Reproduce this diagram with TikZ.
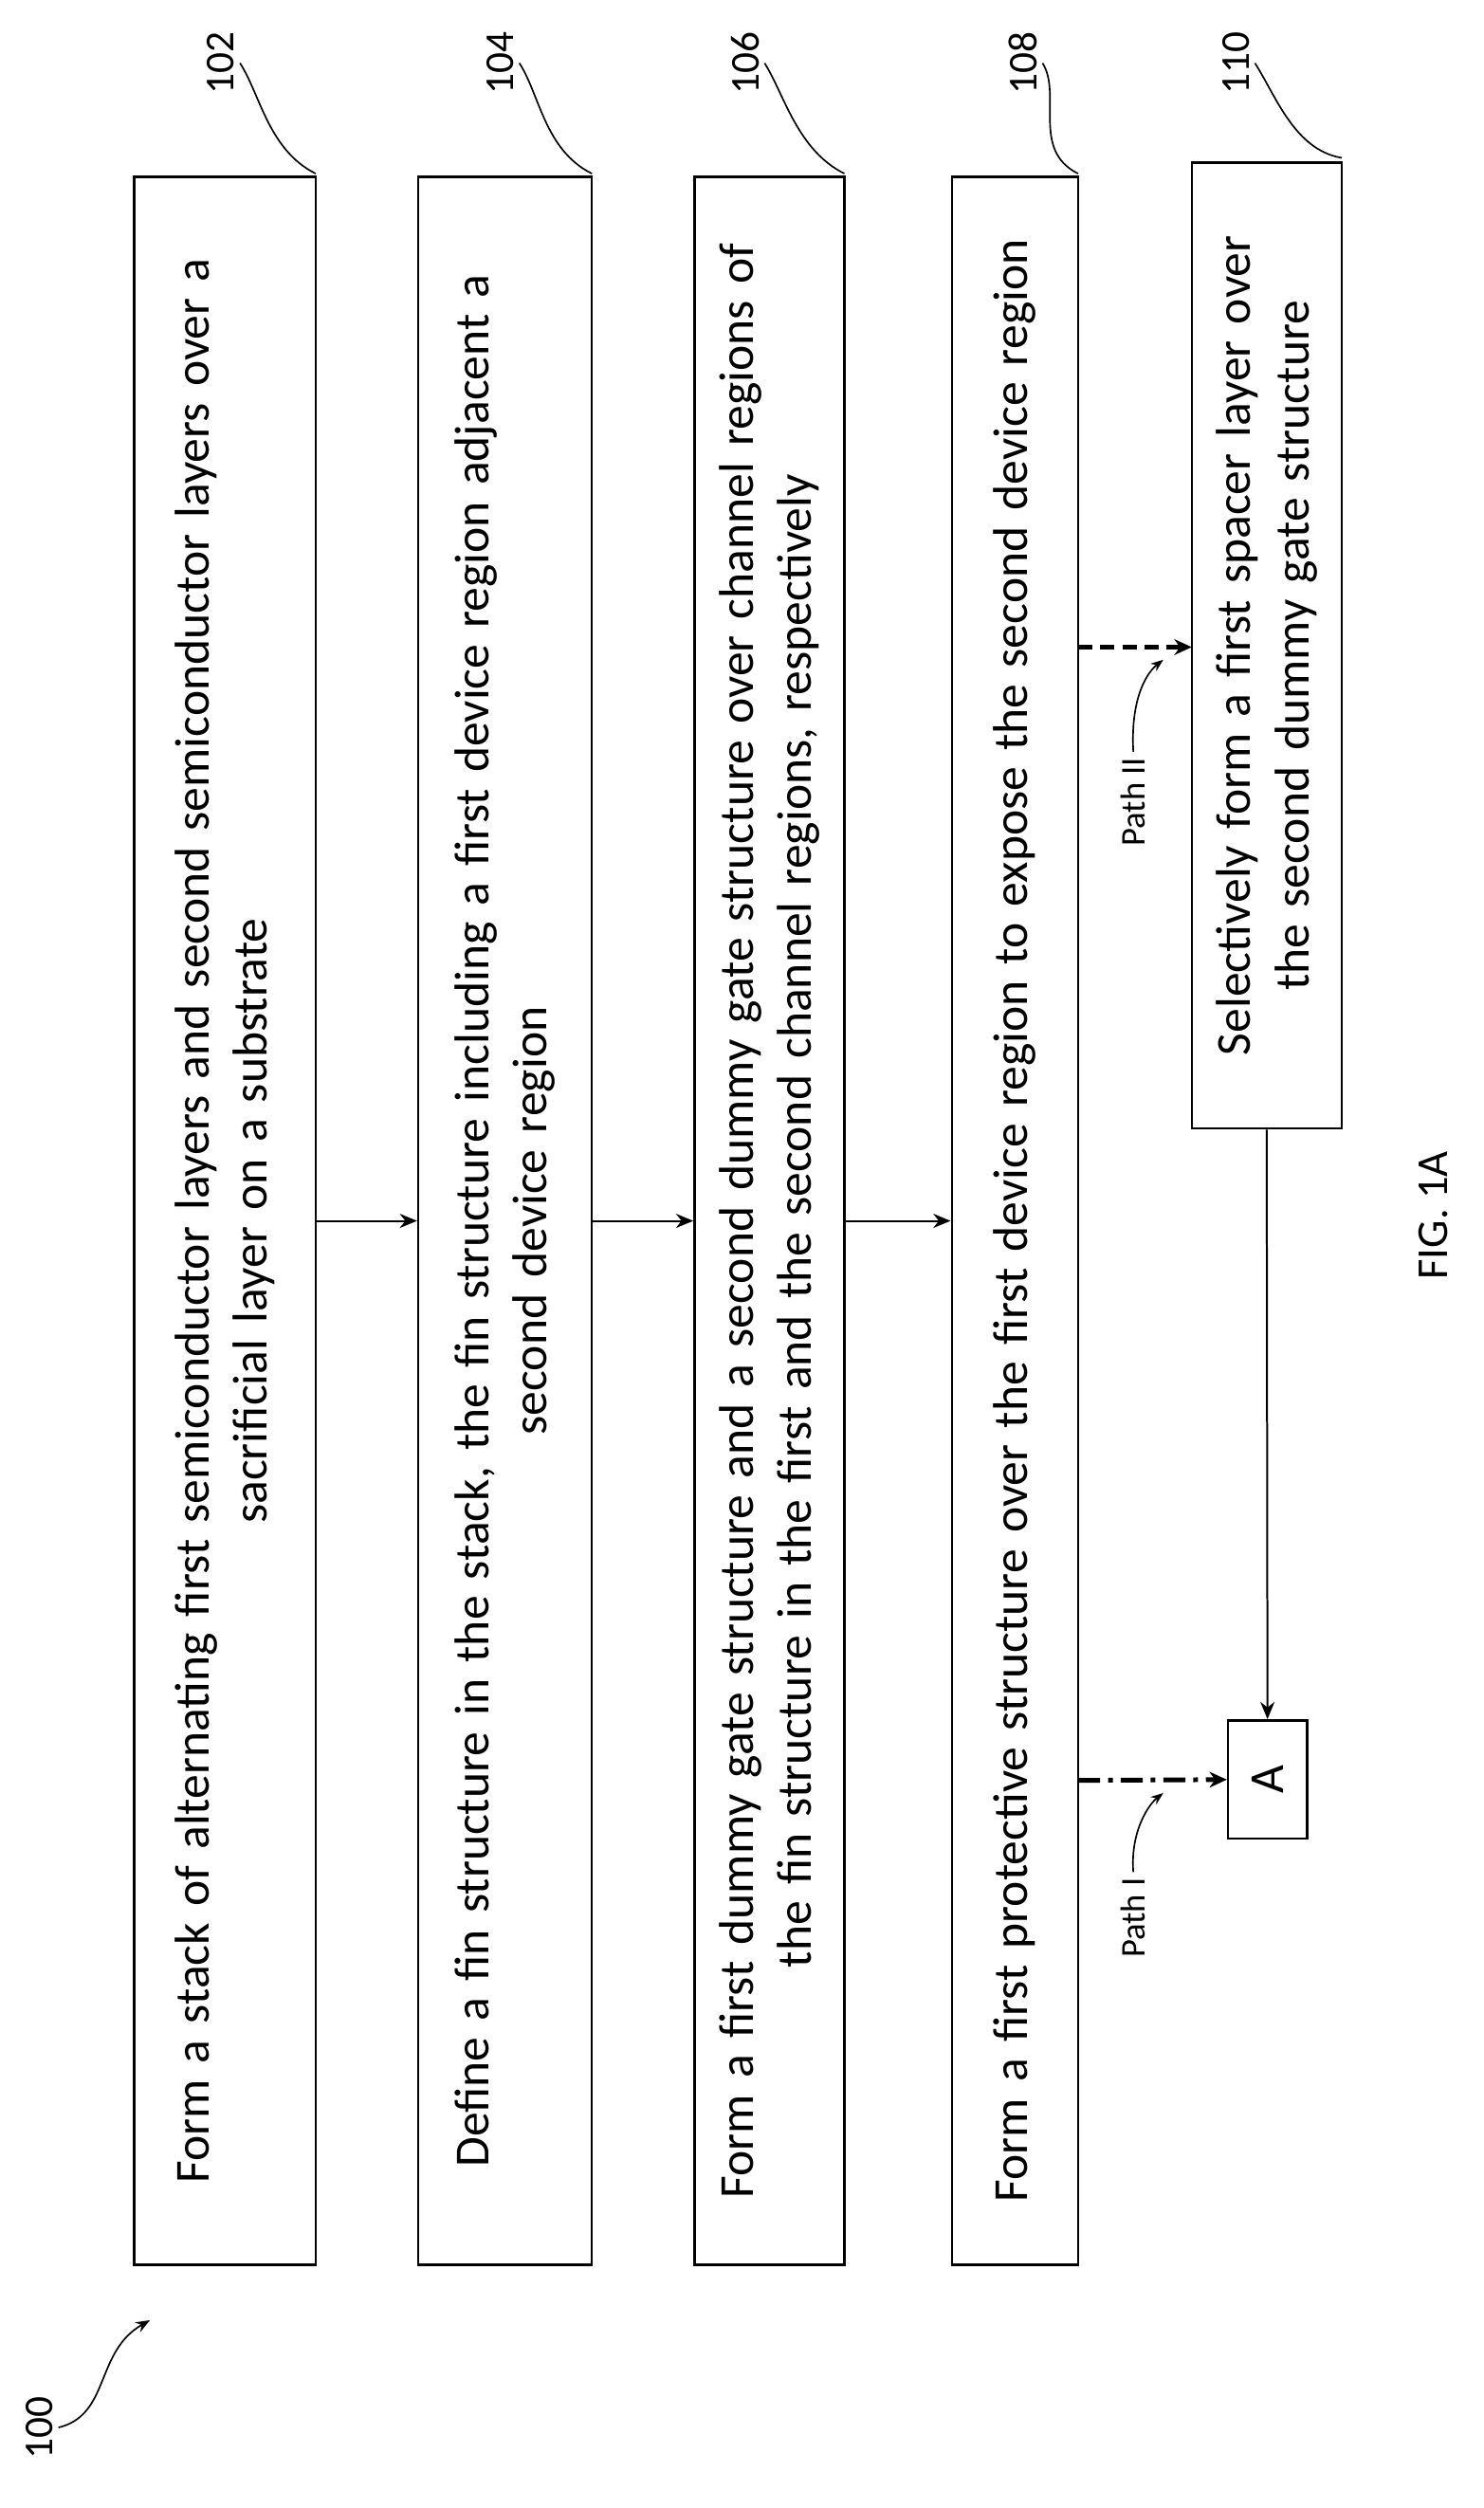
\documentclass[tikz,border=0pt]{standalone}
\usepackage{fontspec}
\setmainfont{Carlito}
\usetikzlibrary{arrows.meta}
\begin{document}
\begin{tikzpicture}[x=1pt,y=-1pt,
  box/.style={draw,line width=1.5pt,rotate=90,minimum height=#1,align=center,font=\fontsize{31}{37}\selectfont,inner sep=0pt},
  conn/.style={line width=1.2pt,-{Stealth[length=11pt,width=9pt]}},
  path/.style={line width=3pt,-{Stealth[length=11pt,width=10pt]}},
  lbl/.style={rotate=90,font=\fontsize{22}{26}\selectfont},
  num/.style={rotate=90,font=\fontsize{26}{30}\selectfont},
  lead/.style={line width=1pt}]
\useasboundingbox (0,0) rectangle (940,1589);
\node[box=115pt,minimum width=1323pt,text width=1310pt] (b102) at (142.5,773.5) {Form a stack of alternating first semiconductor layers and second semiconductor layers over a\\sacrificial layer on a substrate};
\node[box=110pt,minimum width=1323pt,text width=1310pt] (b104) at (320,773.5) {Define a fin structure in the stack, the fin structure including a first device region adjacent a\\second device region};
\node[box=95pt,minimum width=1323pt,text width=1315pt] (b106) at (487.5,773.5) {Form a first dummy gate structure and a second dummy gate structure over channel regions of\\the fin structure in the first and the second channel regions, respectively};
\node[box=80pt,minimum width=1323pt,text width=1315pt] (b108) at (643,773.5) {Form a first protective structure over the first device region to expose the second device region};
\node[box=95pt,minimum width=612pt,text width=590pt] (b110) at (802.5,409) {Selectively form a first spacer layer over\\the second dummy gate structure};
\node[box=50pt,minimum width=75pt] (A) at (803,1127.5) {A};
\draw[conn] (b102.south) -- (b104.north);
\draw[conn] (b104.south) -- (b106.north);
\draw[conn] (b106.south) -- (b108.north);
\coordinate (p2) at (683,410);
\coordinate (p2e) at (755,410);
\draw[path,dash pattern=on 9pt off 5pt] (p2) -- (p2e);
\coordinate (p1) at (683,1128);
\draw[path,dash pattern=on 14pt off 5pt on 3pt off 5pt] (p1) -- (A.north);
\draw[conn] (b110.west) -- (A.east);
\node[lbl] (l2) at (718,508) {Path II};
\coordinate (l2e) at (737,418);
\draw[lead,-{Stealth[length=8pt,width=6pt]}] (l2.east) .. controls (716,440) and (728,425) .. (l2e);
\node[lbl] (l1) at (718,1215) {Path I};
\coordinate (l1e) at (737,1136);
\draw[lead,-{Stealth[length=8pt,width=6pt]}] (l1.east) .. controls (716,1160) and (728,1143) .. (l1e);
\foreach \n/\x/\ex/\ey in {102/140/200/110,104/317/375/110,106/472/535/110,108/648/683/110,110/783/850/100}{
  \node[num] (r\n) at (\x,40) {\n};
  \draw[lead] (r\n.south) .. controls (\x+25,60) and (\ex-30,95) .. (\ex,\ey);
}
\node[num] (r100) at (25,1538) {100};
\coordinate (r100e) at (95,1470);
\draw[lead,-{Stealth[length=9pt,width=7pt]}] (r100.south) .. controls (70,1530) and (60,1490) .. (r100e);
\node[lbl,font=\fontsize{28}{32}\selectfont] (fig) at (908,770) {FIG. 1A};
\end{tikzpicture}
\end{document}
